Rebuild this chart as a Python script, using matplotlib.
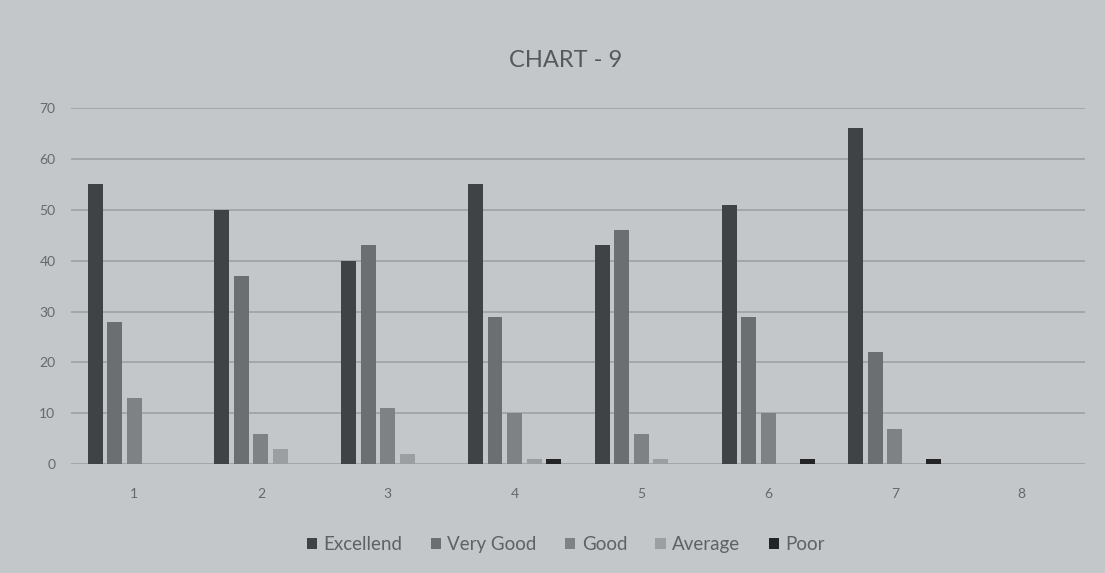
import matplotlib
matplotlib.use("Agg")
import matplotlib.pyplot as plt
import numpy as np

categories = ["1", "2", "3", "4", "5", "6", "7", "8"]
series_names = ["Excellend", "Very Good", "Good", "Average", "Poor"]
excellend = [55, 50, 40, 55, 43, 51, 66, 0]
very_good = [28, 37, 43, 29, 46, 29, 22, 0]
good = [13, 6, 11, 10, 6, 10, 7, 0]
average = [0, 3, 2, 1, 1, 0, 0, 0]
poor = [0, 0, 0, 1, 0, 1, 1, 0]
y_ticks = [0, 10, 20, 30, 40, 50, 60, 70]

colors = ["#3f4345", "#6b6f71", "#7e8284", "#9b9fa1", "#222426"]
bg = "#c3c7ca"

plt.rcParams['font.family'] = ['Lato', 'DejaVu Sans']

fig = plt.figure(figsize=(11.05, 5.73), dpi=100, facecolor=bg)
ax = fig.add_axes([0.064, 0.19, 0.918, 0.6215], facecolor=bg)

x = np.arange(len(categories))
pitch = 0.154
width = 0.118
data = [excellend, very_good, good, average, poor]
for j, (name, vals) in enumerate(zip(series_names, data)):
    ax.bar(x + (j - 2) * pitch, vals, width=width, color=colors[j], label=name, zorder=3)

ax.set_xlim(-0.5, len(categories) - 0.5)
ax.set_ylim(0, 70)
ax.set_yticks(y_ticks)
ax.set_xticks(x)
ax.set_xticklabels(categories)
ax.yaxis.grid(True, color="#9da1a3", linewidth=1.2, zorder=0)
ax.set_axisbelow(True)
for s in ax.spines.values():
    s.set_visible(False)
ax.tick_params(axis="both", length=0, labelsize=10, colors="#66696b")
ax.tick_params(axis="y", pad=11)
ax.tick_params(axis="x", pad=17)

fig.text(0.512, 0.895, "CHART - 9", ha="center", va="center", fontsize=17, color="#55595b")

handles, labels = ax.get_legend_handles_labels()
leg = fig.legend(handles, labels, loc="center", bbox_to_anchor=(0.512, 0.05), ncol=5,
                 frameon=False, fontsize=13.5, handlelength=0.55, handleheight=0.55,
                 handletextpad=0.35, columnspacing=1.5, labelcolor="#5e6264")

fig.savefig("out.png", dpi=100, facecolor=bg)
